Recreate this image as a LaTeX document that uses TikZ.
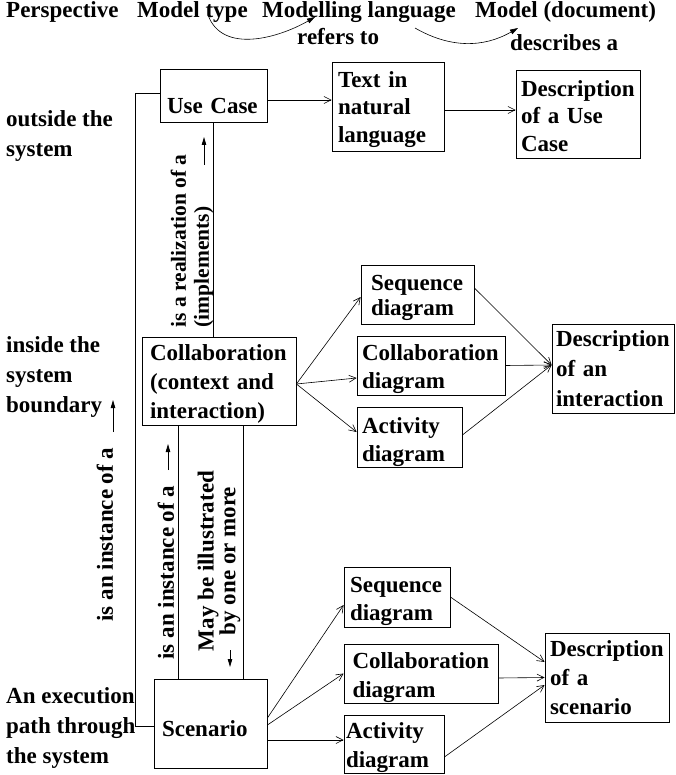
\documentclass[tikz,border=0pt]{standalone}
\usepackage{fontspec}
\setmainfont{Liberation Serif}
\usetikzlibrary{arrows.meta,calc}
\tikzset{
  lbl/.style={font=\fontsize{23}{29}\selectfont\bfseries, inner sep=0pt},
  box/.style={draw, line width=0.8pt, align=left, inner ysep=0pt, font=\fontsize{23}{29}\selectfont\bfseries},
  dn/.style={execute at begin node={\rule{0pt}{#1pt}}},
  conn/.style={line width=0.6pt, -{Straight Barb[length=7pt,width=7pt,line width=0.6pt]}},
  plain/.style={line width=0.8pt},
  tag/.style={line width=0.8pt, -{Triangle[length=8pt,width=4.5pt]}},
  arcarrow/.style={line width=0.6pt, -{Triangle[length=8pt,width=5pt]}},
}
\begin{document}
\begin{tikzpicture}[x=1pt,y=-1pt]
\useasboundingbox (0,0) rectangle (676,775);

% header
\node[lbl, anchor=base west] (hp) at (6,18) {Perspective};
\node[lbl, anchor=base west] (hmt) at (137,18) {Model type};
\node[lbl, anchor=base west] (hml) at (262,18) {Modelling language};
\node[lbl, anchor=base west] (hmd) at (475,18) {Model (document)};
\node[lbl, anchor=base west] (hrt) at (297,45) {refers to};
\node[lbl, anchor=base west] (hda) at (510,51) {describes a};
\coordinate (a1s) at (208,15);
\coordinate (a1e) at (315,17);
\coordinate (a2s) at (415,28);
\coordinate (a2e) at (518,28);
\draw[arcarrow] (a1s) to[out=-70,in=-150] (a1e);
\draw[arcarrow] (a2s) to[out=-30,in=-150] (a2e);

% left column labels
\node[lbl, anchor=base west] (l1) at (6,127) {outside the};
\node[lbl, anchor=base west] (l2) at (6,157) {system};
\node[lbl, anchor=base west] (l3) at (6,352) {inside the};
\node[lbl, anchor=base west] (l4) at (6,382) {system};
\node[lbl, anchor=base west] (l5) at (6,412) {boundary};
\node[lbl, anchor=base west] (l6) at (6,703) {An execution};
\node[lbl, anchor=base west] (l7) at (6,733) {path through};
\node[lbl, anchor=base west] (l8) at (6,763) {the system};

% boxes
\node[box, dn=35.6, minimum width=107pt, minimum height=53pt, text width=93pt, inner xsep=7pt] (uc) at (213.5,95.5) {Use Case};
\node[box, dn=21.6, minimum width=112pt, minimum height=89pt, text width=100pt, inner xsep=6pt, font=\fontsize{23}{27.5}\selectfont\bfseries] (txt) at (388,106.5) {Text in\\natural\\language};
\node[box, dn=19.6, minimum width=124pt, minimum height=88pt, text width=114pt, inner xsep=5pt, font=\fontsize{23}{27.5}\selectfont\bfseries] (duc) at (578,114) {Description\\of a Use\\Case};
\node[box, dn=21.6, minimum width=154pt, minimum height=88pt, text width=138pt, inner xsep=8pt] (col) at (219,381) {Collaboration\\(context and\\interaction)};
\node[box, dn=21.6, minimum width=113pt, minimum height=59pt, text width=93pt, inner xsep=10pt, font=\fontsize{23}{25}\selectfont\bfseries] (seqa) at (417.5,294.5) {Sequence\\diagram};
\node[box, dn=23.6, minimum width=148pt, minimum height=59pt, text width=138pt, inner xsep=5pt, font=\fontsize{23}{28}\selectfont\bfseries] (cda) at (431,365.5) {Collaboration\\diagram};
\node[box, dn=25.6, minimum width=105pt, minimum height=60pt, text width=95pt, inner xsep=5pt, font=\fontsize{23}{28}\selectfont\bfseries] (ada) at (409.5,437) {Activity\\diagram};
\node[box, minimum width=122pt, minimum height=89pt, text width=114pt, inner xsep=4pt, font=\fontsize{23}{30}\selectfont\bfseries] (di) at (613,368.5) {Description\\of an\\interaction};
\node[box, dn=25.6, minimum width=113pt, minimum height=89pt, text width=97pt, inner xsep=8pt] (scn) at (210.5,723.5) {Scenario};
\node[box, dn=23.6, minimum width=106pt, minimum height=60pt, text width=94pt, inner xsep=6pt, font=\fontsize{23}{28}\selectfont\bfseries] (seqb) at (397,597) {Sequence\\diagram};
\node[box, dn=23.6, minimum width=154pt, minimum height=59pt, text width=137pt, inner xsep=8.5pt] (cdb) at (421,673.5) {Collaboration\\diagram};
\node[box, dn=23.6, minimum width=100pt, minimum height=58pt, text width=96pt, inner xsep=2pt] (adb) at (394,744) {Activity\\diagram};
\node[box, minimum width=124pt, minimum height=89pt, text width=114pt, inner xsep=5pt] (ds) at (607,677.5) {Description\\of a\\scenario};

% rotated labels
\node[lbl, rotate=90, align=left, font=\fontsize{21.5}{23}\selectfont\bfseries] (real) at (192,241) {is a realization of a\\(implements)};
\node[lbl, rotate=90] (insta) at (105,534.5) {is an instance of a};
\node[lbl, rotate=90] (instb) at (166,572.5) {is an instance of a};
\node[lbl, rotate=90, align=center, font=\fontsize{23}{18}\selectfont\bfseries] (may) at (219,561) {May be illustrated\\by one or more};

% label arrows
\coordinate (t1s) at (204,165); \coordinate (t1e) at (204,137);
\coordinate (t2s) at (113,432); \coordinate (t2e) at (113,400);
\coordinate (t3s) at (168,470); \coordinate (t3e) at (168,444);
\coordinate (t4s) at (230,650); \coordinate (t4e) at (230,667);
\draw[tag] (t1s) -- (t1e);
\draw[tag] (t2s) -- (t2e);
\draw[tag] (t3s) -- (t3e);
\draw[tag] (t4s) -- (t4e);

% structural lines
\draw[plain] ([yshift=2.5pt]uc.west) -- ++(-24,0) |- ([yshift=-2.5pt]scn.west);
\draw[plain] ([xshift=-0.5pt]uc.south) -- ([xshift=-0.5pt]uc.south |- col.north);
\draw[plain] ([xshift=-41pt]col.south) -- ([xshift=-41pt]col.south |- scn.north);
\draw[plain] ([xshift=24pt]col.south) -- ([xshift=24pt]col.south |- scn.north);

% top row
\draw[conn] ([yshift=-4.5pt]uc.east) -- ([yshift=6.5pt]txt.west);
\draw[conn] ([yshift=-3.5pt]txt.east) -- ([yshift=4pt]duc.west);

% middle
\draw[conn] ([yshift=-3pt]col.east) -- ([yshift=-2.5pt]seqa.west);
\draw[conn] ([yshift=-3pt]col.east) -- ([yshift=-12.5pt]cda.west);
\draw[conn] ([yshift=-3pt]col.east) -- ([yshift=5pt]ada.west);
\draw[conn] ([yshift=6.5pt]seqa.east) -- ([yshift=3.5pt]di.west);
\draw[conn] (cda.east) -- ([yshift=3.5pt]di.west);
\draw[conn] ([yshift=2pt]ada.east) -- ([yshift=3.5pt]di.west);

% bottom
\draw[conn] ([yshift=5.5pt]scn.east) -- ([yshift=-8pt]seqb.west);
\draw[conn] ([yshift=-1.5pt]scn.east) -- (cdb.west);
\draw[conn] ([yshift=-16.5pt]scn.east) -- ([yshift=4pt]adb.west);
\draw[conn] (seqb.east) -- ([yshift=15.5pt]ds.west);
\draw[conn] ([yshift=-4.5pt]cdb.east) -- (ds.west);
\draw[conn] ([yshift=-13pt]adb.east) -- ([yshift=-7.5pt]ds.west);
\end{tikzpicture}
\end{document}
